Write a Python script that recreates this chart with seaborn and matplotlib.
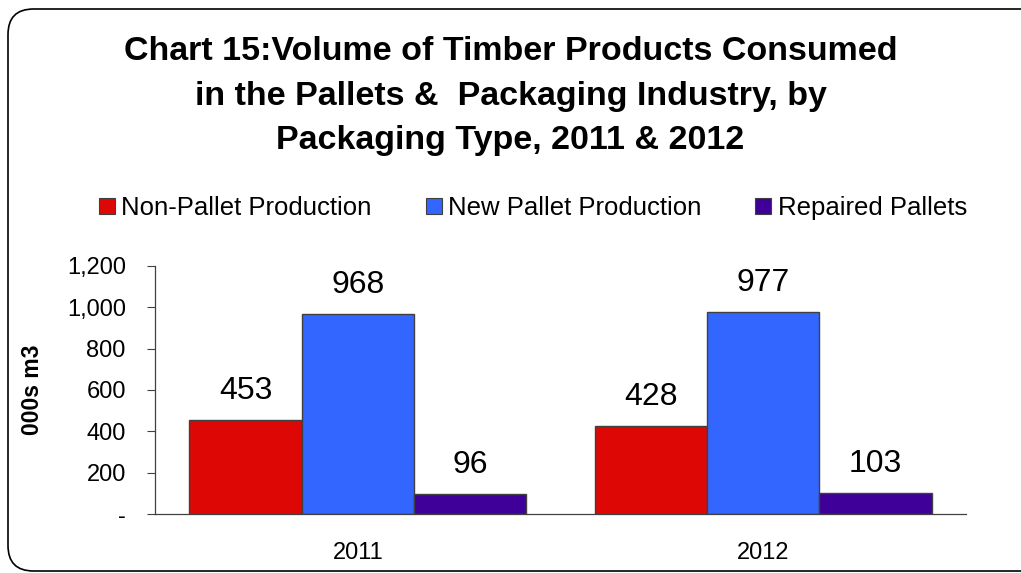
import matplotlib
matplotlib.use("Agg")
import matplotlib.pyplot as plt
from matplotlib.patches import FancyBboxPatch
import seaborn as sns
import pandas as pd

years = ["2011", "2012"]
series = ["Non-Pallet Production", "New Pallet Production", "Repaired Pallets"]
non_pallet = [453, 428]
new_pallet = [968, 977]
repaired = [96, 103]
colors = ["#DD0806", "#3366FF", "#3F0099"]
y_ticks = [0, 200, 400, 600, 800, 1000, 1200]
y_tick_labels = ["-", "200", "400", "600", "800", "1,000", "1,200"]

df = pd.DataFrame({
    "year": years * 3,
    "series": [s for s in series for _ in years],
    "value": non_pallet + new_pallet + repaired,
})

sns.set_theme(style="white")
plt.rcParams["font.family"] = ["Liberation Sans", "DejaVu Sans"]
plt.rcParams["text.color"] = "black"
plt.rcParams["axes.labelcolor"] = "black"
plt.rcParams["xtick.color"] = "black"
plt.rcParams["ytick.color"] = "black"

fig = plt.figure(figsize=(10.21, 5.73), dpi=100)
ax = fig.add_axes([155 / 1021, 1 - 514 / 573, (966 - 155) / 1021, (514 - 266) / 573])

sns.barplot(data=df, x="year", y="value", hue="series", order=years,
            hue_order=series, palette=colors, width=0.83, saturation=1,
            edgecolor="#404040", linewidth=1.0, legend=False, ax=ax)

for cont in ax.containers:
    ax.bar_label(cont, labels=[f"{v:.0f}" for v in cont.datavalues],
                 padding=10, fontsize=23, color="black")

ax.set_xlim(-0.5, 1.5)
ax.set_ylim(0, 1200)
ax.set_yticks(y_ticks)
ax.set_yticklabels(y_tick_labels, fontsize=17)
ax.set_xticks([0, 1])
ax.set_xticklabels(years, fontsize=17)
ax.set_xticks([-0.5, 0.5, 1.5], minor=True)
ax.tick_params(axis="x", which="major", length=0, pad=20, labelcolor="black")
ax.tick_params(axis="x", which="minor", length=6, width=0.8, color="#404040", direction="out")
ax.tick_params(axis="y", length=6, width=0.8, color="#404040", direction="out",
               left=True, pad=15, labelcolor="black")
ax.set_xlabel("")
ax.set_ylabel("000s m3", fontsize=16.5, fontweight="bold", color="black")
ax.yaxis.set_label_coords(-0.137, 0.5)
for side in ["top", "right"]:
    ax.spines[side].set_visible(False)
for side in ["left", "bottom"]:
    ax.spines[side].set_color("#404040")
    ax.spines[side].set_linewidth(0.9)

title_lines = ["Chart 15:Volume of Timber Products Consumed",
               "in the Pallets &  Packaging Industry, by",
               "Packaging Type, 2011 & 2012"]
for line, ypix in zip(title_lines, [52, 97, 140]):
    fig.text(0.5, 1 - ypix / 573, line, ha="center", va="center",
             fontsize=24.5, fontweight="bold", color="black")

handles = [plt.Rectangle((0, 0), 1, 1, facecolor=c, edgecolor="#404040", linewidth=0.8)
           for c in colors]
fig.legend(handles, series, loc="center", bbox_to_anchor=(533 / 1021, 1 - 208 / 573),
           ncol=3, frameon=False, fontsize=18.5, handlelength=0.62, handleheight=0.62,
           handletextpad=0.25, columnspacing=2.1)

border = FancyBboxPatch((8 / 1021, 1 - 571 / 573), 1.2, (571 - 9) / 573,
                        boxstyle="round,pad=0,rounding_size=0.025",
                        transform=fig.transFigure, facecolor="none",
                        edgecolor="black", linewidth=1.2, mutation_aspect=1021 / 573)
fig.patches.append(border)

fig.savefig("out.png", dpi=100)
